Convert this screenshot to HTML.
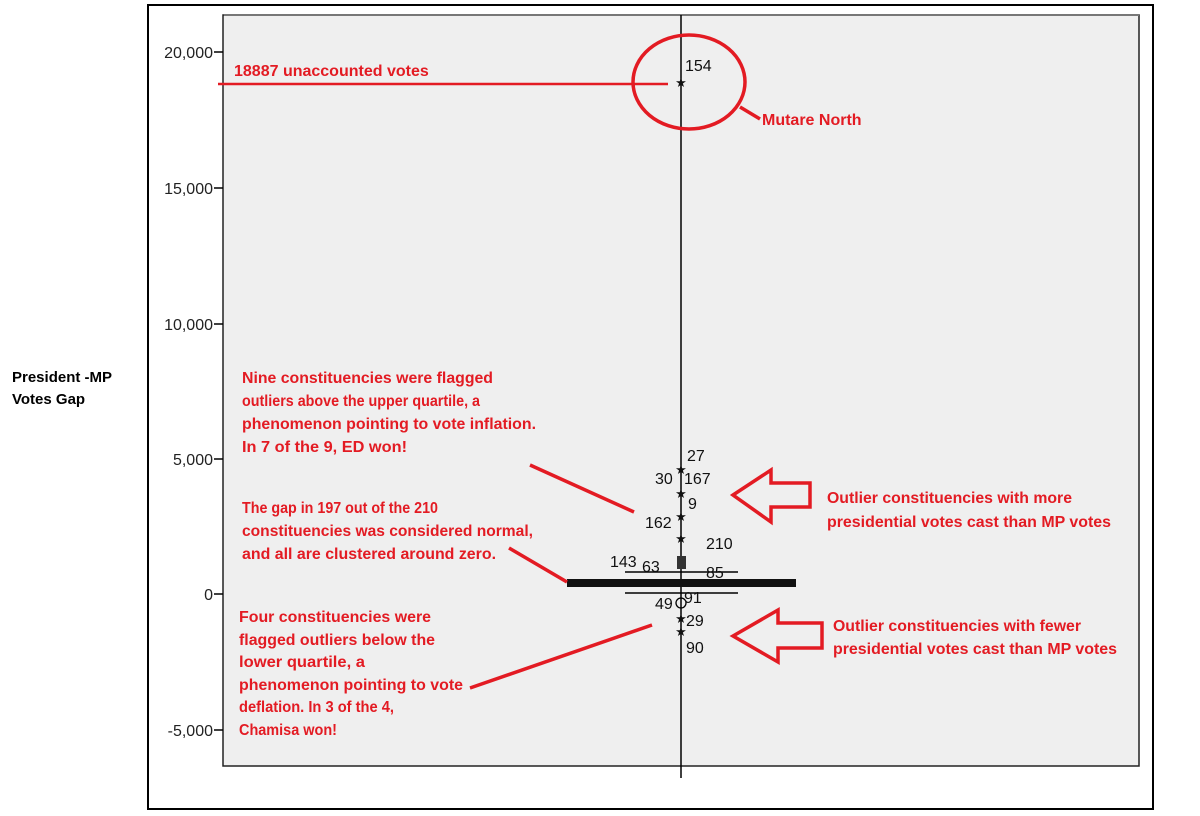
<!DOCTYPE html>
<html><head><meta charset="utf-8"><style>
html,body{margin:0;padding:0;background:#fff;}
svg{display:block;}
.r{fill:#e31b23;font-family:"Liberation Sans",Arial,sans-serif;font-weight:bold;font-size:16px;}
.n{fill:#111;font-family:"Liberation Sans",Arial,sans-serif;font-size:16px;}
.t{fill:#222;font-family:"Liberation Sans",Arial,sans-serif;font-size:16px;}
</style></head><body>
<svg width="1200" height="816" viewBox="0 0 1200 816" xmlns="http://www.w3.org/2000/svg">
<rect x="148" y="5" width="1005" height="804" fill="#fff" stroke="#000" stroke-width="2"/>
<rect x="223" y="15" width="916" height="751" fill="#efefef" stroke="#222" stroke-width="1.5"/>
<line x1="224" y1="15" x2="1139" y2="15" stroke="#777" stroke-width="2"/>
<g stroke="#000" stroke-width="1.5">
<line x1="214" y1="52" x2="223" y2="52"/><line x1="214" y1="188" x2="223" y2="188"/>
<line x1="214" y1="324" x2="223" y2="324"/><line x1="214" y1="459" x2="223" y2="459"/>
<line x1="214" y1="594" x2="223" y2="594"/><line x1="214" y1="730" x2="223" y2="730"/>
</g>
<g class="t" text-anchor="end">
<text x="213" y="58">20,000</text><text x="213" y="194">15,000</text>
<text x="213" y="330">10,000</text><text x="213" y="465">5,000</text>
<text x="213" y="600">0</text><text x="213" y="736">-5,000</text>
</g>
<text x="12" y="382" style="font-family:'Liberation Sans',Arial,sans-serif;font-weight:bold;font-size:15px" fill="#000">President -MP</text>
<text x="12" y="404" style="font-family:'Liberation Sans',Arial,sans-serif;font-weight:bold;font-size:15px" fill="#000">Votes Gap</text>
<line x1="681" y1="15" x2="681" y2="778" stroke="#000" stroke-width="1.5"/>
<rect x="567" y="579" width="229" height="8" fill="#111"/>
<line x1="625" y1="572" x2="738" y2="572" stroke="#000" stroke-width="1.5"/>
<line x1="625" y1="593" x2="738" y2="593" stroke="#000" stroke-width="1.5"/>
<rect x="677" y="556" width="9" height="13" fill="#333"/>
<circle cx="681" cy="603" r="5" fill="none" stroke="#000" stroke-width="1.3"/>
<g fill="#111" font-family="Liberation Sans, sans-serif" text-anchor="middle" font-size="13">
<text x="681" y="87">★</text><text x="681" y="474">★</text><text x="681" y="498">★</text>
<text x="681" y="521">★</text><text x="681" y="543">★</text><text x="681" y="623">★</text><text x="681" y="636">★</text>
</g>
<g class="n">
<text x="685" y="71">154</text><text x="687" y="461">27</text><text x="655" y="484">30</text>
<text x="684" y="484">167</text><text x="688" y="509">9</text><text x="645" y="528">162</text>
<text x="706" y="549">210</text><text x="610" y="567">143</text><text x="642" y="572">63</text>
<text x="706" y="578">85</text><text x="655" y="609">49</text><text x="684" y="603">91</text>
<text x="686" y="626">29</text><text x="686" y="653">90</text>
</g>
<g stroke="#e31b23" stroke-width="3.5" fill="none">
<line x1="218" y1="84" x2="668" y2="84" stroke-width="2.5"/>
<ellipse cx="689" cy="82" rx="56" ry="47"/>
<line x1="740" y1="107" x2="760" y2="119"/>
<line x1="530" y1="465" x2="634" y2="512"/>
<line x1="509" y1="548" x2="567" y2="582"/>
<line x1="470" y1="688" x2="652" y2="625"/>
<polygon points="733,495 771,470 771,483 810,483 810,507 771,507 771,522"/>
<polygon points="733,636 778,610 778,623 822,623 822,648 778,648 778,662"/>
</g>
<g class="r">
<text x="234" y="76">18887 unaccounted votes</text>
<text x="762" y="125">Mutare North</text>
<text x="242" y="383" textLength="251" lengthAdjust="spacingAndGlyphs">Nine constituencies were flagged</text>
<text x="242" y="406" textLength="238" lengthAdjust="spacingAndGlyphs">outliers above the upper quartile, a</text>
<text x="242" y="429" textLength="294" lengthAdjust="spacingAndGlyphs">phenomenon pointing to vote inflation.</text>
<text x="242" y="452" textLength="165" lengthAdjust="spacingAndGlyphs">In 7 of the 9, ED won!</text>
<text x="242" y="513" textLength="196" lengthAdjust="spacingAndGlyphs">The gap in 197 out of the 210</text>
<text x="242" y="536" textLength="291" lengthAdjust="spacingAndGlyphs">constituencies was considered normal,</text>
<text x="242" y="559" textLength="254" lengthAdjust="spacingAndGlyphs">and all are clustered around zero.</text>
<text x="239" y="622" textLength="192" lengthAdjust="spacingAndGlyphs">Four constituencies were</text>
<text x="239" y="645" textLength="196" lengthAdjust="spacingAndGlyphs">flagged outliers below the</text>
<text x="239" y="667" textLength="126" lengthAdjust="spacingAndGlyphs">lower quartile, a</text>
<text x="239" y="690" textLength="224" lengthAdjust="spacingAndGlyphs">phenomenon pointing to vote</text>
<text x="239" y="712" textLength="155" lengthAdjust="spacingAndGlyphs">deflation. In 3 of the 4,</text>
<text x="239" y="735" textLength="98" lengthAdjust="spacingAndGlyphs">Chamisa won!</text>
<text x="827" y="503" textLength="245" lengthAdjust="spacingAndGlyphs">Outlier constituencies with more</text>
<text x="827" y="527" textLength="284" lengthAdjust="spacingAndGlyphs">presidential votes cast than MP votes</text>
<text x="833" y="631" textLength="248" lengthAdjust="spacingAndGlyphs">Outlier constituencies with fewer</text>
<text x="833" y="654" textLength="284" lengthAdjust="spacingAndGlyphs">presidential votes cast than MP votes</text>
</g>
</svg>
</body></html>
